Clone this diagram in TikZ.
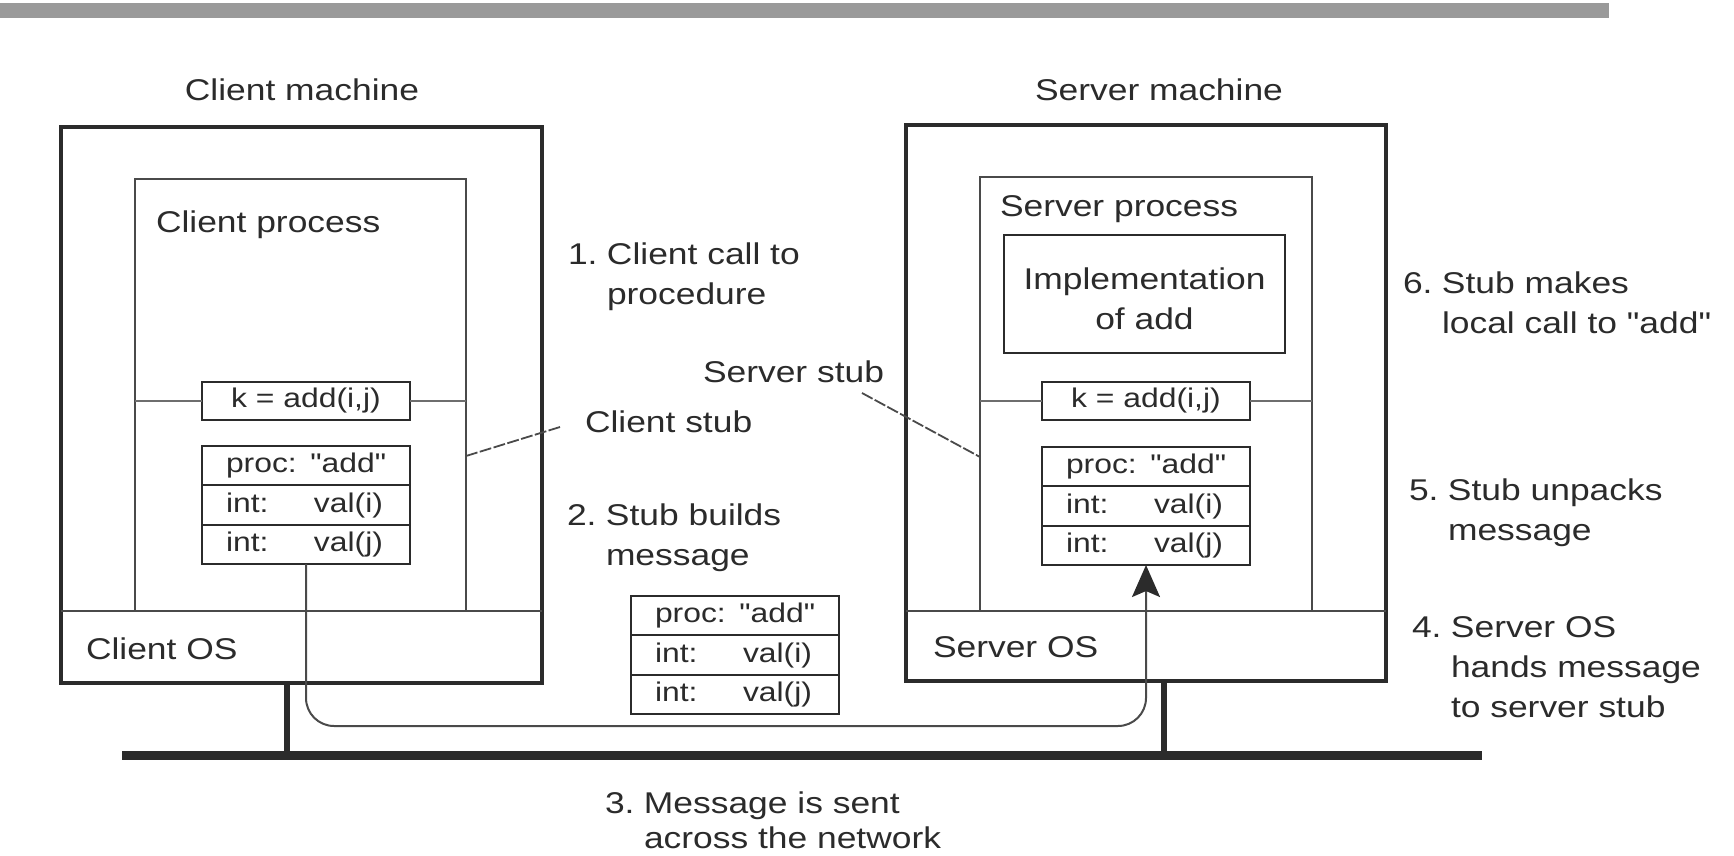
\documentclass[tikz,border=0pt]{standalone}
\usepackage{fontspec}
\setmainfont{Liberation Sans}[FakeStretch=1.18, Ligatures=TeXOff]
\usetikzlibrary{arrows.meta}
\definecolor{ink}{HTML}{2B2B2B}
\definecolor{soft}{HTML}{4A4A4A}
\definecolor{lite}{HTML}{6E6E6E}
\definecolor{band}{HTML}{9A9A9A}
\newcommand{\mainf}{\fontsize{15pt}{20pt}\selectfont}
\newcommand{\tightf}{\fontsize{15pt}{17.5pt}\selectfont}
\newcommand{\boxf}{\fontsize{13.5pt}{16pt}\selectfont}
\newcommand{\nb}[1]{\makebox[19.5pt][l]{#1}}
\newcommand{\ib}[1]{\makebox[44pt][l]{#1}}
\begin{document}
\begin{tikzpicture}[x=0.5pt,y=-0.5pt,
  every node/.style={inner sep=0pt, outer sep=0pt, text=ink, font=\mainf},
  machine/.style={draw=ink, line width=2.2pt},
  procbox/.style={draw=soft, line width=1.2pt},
  callbox/.style={draw=ink, line width=1.3pt, fill=white, minimum width=104pt, minimum height=19pt, font=\boxf},
  msgrow/.style={draw=ink, line width=1pt, fill=white, minimum width=104pt, minimum height=19.67pt, font=\boxf, text width=80pt, inner xsep=12pt, align=left},
  implbox/.style={draw=ink, line width=1.3pt, minimum width=140.5pt, minimum height=59pt, align=center},
  lbl/.style={anchor=base west},
  osline/.style={draw=soft, line width=1.4pt},
  thinline/.style={draw=lite, line width=0.9pt},
  leader/.style={draw=soft, line width=0.9pt, dash pattern=on 6pt off 1.2pt},
  leg/.style={draw=ink, line width=3pt},
  busline/.style={draw=ink, line width=4.5pt},
  msgpath/.style={draw=soft, line width=1pt, rounded corners=14pt, -{Stealth[length=16pt,width=14pt,inset=3pt,color=ink]}},
]
\useasboundingbox (0,0) rectangle (1734,856);
\fill[band] (0,3) rectangle (1609,18);

% client machine
\node[machine, minimum width=240.5pt, minimum height=278pt] (cm) at (301.5,405) {};
\node[anchor=base] (cmt) at (302,101) {Client machine};
\node[procbox, minimum width=165.5pt, minimum height=216pt] (cp) at (300.5,395) {};
\node[lbl] (cpt) at (156,232) {Client process};
\node[callbox] (ck) at (306,401) {k = add(i,j)};
\node[msgrow, anchor=north] (cr1) at (306,446) {\mbox{proc: "add"}};
\node[msgrow, anchor=north] (cr2) at (cr1.south) {\ib{int:}val(i)};
\node[msgrow, anchor=north] (cr3) at (cr2.south) {\ib{int:}val(j)};
\node[lbl] (cos) at (86,659) {Client OS};

% server machine
\node[machine, minimum width=240pt, minimum height=278pt] (sm) at (1146,403) {};
\node[anchor=base] (smt) at (1159,101) {Server machine};
\node[procbox, minimum width=166pt, minimum height=217pt] (sp) at (1146,394) {};
\node[lbl] (spt) at (1000,216) {Server process};
\node[implbox] (impl) at (1144.5,294) {\rule{0pt}{16pt}Implementation\\of add};
\node[callbox] (sk) at (1146,401) {k = add(i,j)};
\node[msgrow, anchor=north] (sr1) at (1146,447) {\mbox{proc: "add"}};
\node[msgrow, anchor=north] (sr2) at (sr1.south) {\ib{int:}val(i)};
\node[msgrow, anchor=north] (sr3) at (sr2.south) {\ib{int:}val(j)};
\node[lbl] (sos) at (933,657) {Server OS};

% message in transit
\node[msgrow, anchor=north] (mr1) at (735,596) {\mbox{proc: "add"}};
\node[msgrow, anchor=north] (mr2) at (mr1.south) {\ib{int:}val(i)};
\node[msgrow, anchor=north] (mr3) at (mr2.south) {\ib{int:}val(j)};

% step labels
\node[lbl] (s1) at (568,264) {\begin{tabular}[t]{@{}l@{}}\nb{1.}Client call to\\\nb{}procedure\end{tabular}};
\node[lbl] (s2) at (567,525) {\begin{tabular}[t]{@{}l@{}}\nb{2.}Stub builds\\\nb{}message\end{tabular}};
\node[lbl] (cst) at (585,432) {Client stub};
\node[lbl] (sst) at (703,382) {Server stub};
\node[lbl] (s6) at (1403,293) {\begin{tabular}[t]{@{}l@{}}\nb{6.}Stub makes\\\nb{}local call to "add"\end{tabular}};
\node[lbl] (s5) at (1409,500) {\begin{tabular}[t]{@{}l@{}}\nb{5.}Stub unpacks\\\nb{}message\end{tabular}};
\node[lbl] (s4) at (1412,637) {\begin{tabular}[t]{@{}l@{}}\nb{4.}Server OS\\\nb{}hands message\\\nb{}to server stub\end{tabular}};
\node[lbl, font=\tightf] (s3) at (605,813) {\begin{tabular}[t]{@{}l@{}}\nb{3.}Message is sent\\\nb{}across the network\end{tabular}};

% OS separators
\coordinate (osy) at (0,611);
\draw[osline] (cm.west |- osy) -- (cm.east |- osy);
\draw[osline] (sm.west |- osy) -- (sm.east |- osy);

% stub boundary lines
\draw[thinline] (cp.west |- ck.center) -- (ck.west);
\draw[thinline] (ck.east) -- (cp.east |- ck.center);
\draw[thinline] (sp.west |- sk.center) -- (sk.west);
\draw[thinline] (sk.east) -- (sp.east |- sk.center);

% leaders
\draw[leader] ([yshift=-30.5pt]cp.east) -- ([xshift=-12.5pt,yshift=2.5pt]cst.base west);
\draw[leader] ([xshift=79.5pt,yshift=-5.5pt]sst.base west) -- ([yshift=-31.5pt]sp.west);

% network
\coordinate (busL) at (122,755);
\coordinate (busR) at (1482,755);
\draw[busline] (busL) -- (busR);
\coordinate (cfoot) at (287,755);
\coordinate (sfoot) at (1164,755);
\draw[leg] (cm.south -| cfoot) -- (cfoot);
\draw[leg] (sm.south -| sfoot) -- (sfoot);

% message path
\coordinate (track) at (0,726);
\draw[msgpath] (cr3.south) -- (cr3.south |- track) -- (sr3.south |- track) -- (sr3.south);
\end{tikzpicture}
\end{document}
